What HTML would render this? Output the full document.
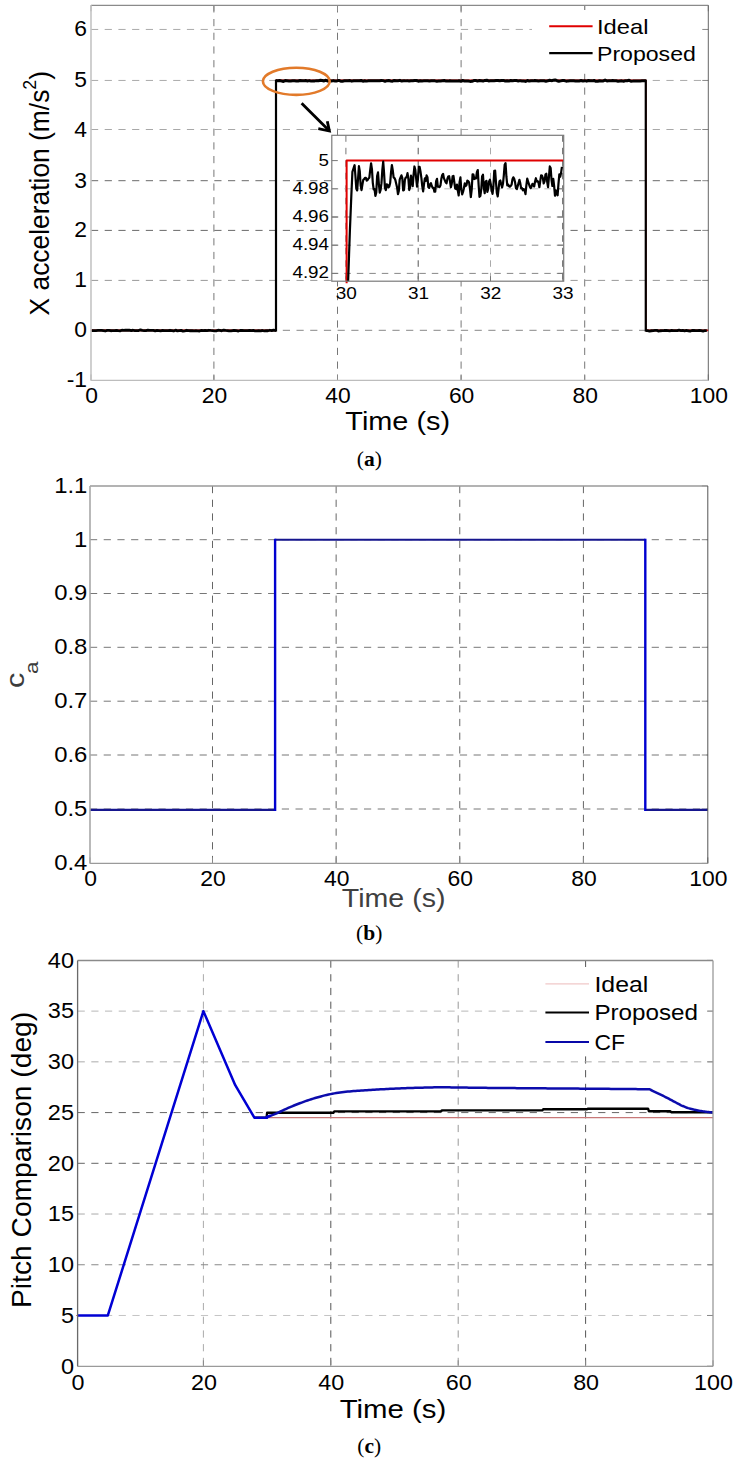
<!DOCTYPE html>
<html><head><meta charset="utf-8"><style>
html,body{margin:0;padding:0;background:#fff;}
svg{display:block}
text{font-family:"Liberation Sans", sans-serif;}
.cap{font-family:"Liberation Serif",serif;}
.b{font-weight:bold;}
</style></head><body>
<svg width="737" height="1466" viewBox="0 0 737 1466">
<rect width="737" height="1466" fill="#fff"/>
<line x1="213.90" y1="5.30" x2="213.90" y2="380.40" stroke="#777" stroke-width="1" stroke-dasharray="7.2 6.5" />
<line x1="337.50" y1="5.30" x2="337.50" y2="380.40" stroke="#777" stroke-width="1" stroke-dasharray="7.2 6.5" />
<line x1="461.10" y1="5.30" x2="461.10" y2="380.40" stroke="#777" stroke-width="1" stroke-dasharray="7.2 6.5" />
<line x1="584.70" y1="5.30" x2="584.70" y2="380.40" stroke="#777" stroke-width="1" stroke-dasharray="7.2 6.5" />
<line x1="91.00" y1="29.45" x2="708.30" y2="29.45" stroke="#aaa" stroke-width="1" stroke-dasharray="7.2 6.5" />
<line x1="91.00" y1="80.45" x2="708.30" y2="80.45" stroke="#aaa" stroke-width="1" stroke-dasharray="7.2 6.5" />
<line x1="91.00" y1="129.50" x2="708.30" y2="129.50" stroke="#a8a8a8" stroke-width="1" stroke-dasharray="7.2 6.5" />
<line x1="91.00" y1="180.70" x2="708.30" y2="180.70" stroke="#6a6a6a" stroke-width="1" stroke-dasharray="7.2 6.5" />
<line x1="91.00" y1="230.40" x2="708.30" y2="230.40" stroke="#6a6a6a" stroke-width="1" stroke-dasharray="7.2 6.5" />
<line x1="91.00" y1="280.40" x2="708.30" y2="280.40" stroke="#999" stroke-width="1" stroke-dasharray="7.2 6.5" />
<line x1="91.00" y1="330.30" x2="708.30" y2="330.30" stroke="#888" stroke-width="1" stroke-dasharray="7.2 6.5" />
<line x1="702.30" y1="29.45" x2="708.30" y2="29.45" stroke="#888" stroke-width="1" />
<line x1="702.30" y1="80.45" x2="708.30" y2="80.45" stroke="#888" stroke-width="1" />
<line x1="702.30" y1="129.50" x2="708.30" y2="129.50" stroke="#888" stroke-width="1" />
<line x1="702.30" y1="180.70" x2="708.30" y2="180.70" stroke="#888" stroke-width="1" />
<line x1="702.30" y1="230.40" x2="708.30" y2="230.40" stroke="#888" stroke-width="1" />
<line x1="702.30" y1="280.40" x2="708.30" y2="280.40" stroke="#888" stroke-width="1" />
<line x1="702.30" y1="330.30" x2="708.30" y2="330.30" stroke="#888" stroke-width="1" />
<line x1="702.30" y1="380.40" x2="708.30" y2="380.40" stroke="#888" stroke-width="1" />
<line x1="91.00" y1="380.40" x2="91.00" y2="374.40" stroke="#888" stroke-width="1" />
<line x1="91.00" y1="5.30" x2="91.00" y2="11.30" stroke="#888" stroke-width="1" />
<line x1="213.90" y1="380.40" x2="213.90" y2="374.40" stroke="#888" stroke-width="1" />
<line x1="213.90" y1="5.30" x2="213.90" y2="11.30" stroke="#888" stroke-width="1" />
<line x1="337.50" y1="380.40" x2="337.50" y2="374.40" stroke="#888" stroke-width="1" />
<line x1="337.50" y1="5.30" x2="337.50" y2="11.30" stroke="#888" stroke-width="1" />
<line x1="461.10" y1="380.40" x2="461.10" y2="374.40" stroke="#888" stroke-width="1" />
<line x1="461.10" y1="5.30" x2="461.10" y2="11.30" stroke="#888" stroke-width="1" />
<line x1="584.70" y1="380.40" x2="584.70" y2="374.40" stroke="#888" stroke-width="1" />
<line x1="584.70" y1="5.30" x2="584.70" y2="11.30" stroke="#888" stroke-width="1" />
<line x1="708.30" y1="380.40" x2="708.30" y2="374.40" stroke="#888" stroke-width="1" />
<line x1="708.30" y1="5.30" x2="708.30" y2="11.30" stroke="#888" stroke-width="1" />
<polyline points="91.11,330.40 276.00,330.40 276.00,80.20 645.78,80.20 645.78,330.40 708.30,330.40" fill="none" stroke="#e00000" stroke-width="1.6" stroke-linejoin="round" />
<polyline points="91.50,330.40 92.34,330.60 94.19,330.68 96.04,330.52 97.89,330.35 99.74,330.47 101.59,330.32 103.44,330.62 105.28,330.98 107.13,330.46 108.98,330.43 110.83,330.74 112.68,330.70 114.53,330.63 116.38,330.34 118.23,330.59 120.08,330.79 121.92,330.22 123.77,330.47 125.62,330.07 127.47,330.24 129.32,330.08 131.17,330.53 133.02,330.25 134.87,330.68 136.72,330.64 138.57,330.55 140.41,329.90 142.26,330.45 144.11,330.59 145.96,330.63 147.81,330.17 149.66,330.47 151.51,330.33 153.36,330.37 155.21,330.90 157.05,330.37 158.90,330.59 160.75,330.85 162.60,330.44 164.45,330.57 166.30,330.63 168.15,330.62 170.00,330.26 171.85,330.62 173.69,330.98 175.54,330.17 177.39,330.84 179.24,330.63 181.09,330.42 182.94,331.16 184.79,330.81 186.64,330.26 188.49,330.62 190.33,330.76 192.18,330.55 194.03,330.79 195.88,330.58 197.73,330.79 199.58,331.00 201.43,330.41 203.28,330.66 205.13,330.47 206.97,330.64 208.82,330.27 210.67,330.44 212.52,330.55 214.37,330.85 216.22,330.92 218.07,330.23 219.92,330.38 221.77,330.78 223.61,330.04 225.46,330.47 227.31,330.57 229.16,330.95 231.01,330.79 232.86,330.51 234.71,330.50 236.56,330.53 238.41,331.03 240.25,330.48 242.10,330.51 243.95,330.70 245.80,330.57 247.65,330.54 249.50,330.29 251.35,330.60 253.20,330.48 255.05,330.93 256.89,330.78 258.74,330.59 260.59,330.79 262.44,330.50 264.29,330.89 266.14,330.60 267.99,330.76 269.84,330.24 271.69,330.70 273.53,330.13 276.00,330.60" fill="none" stroke="#000" stroke-width="2.8" stroke-linejoin="round" />
<polyline points="276.00,80.85 277.85,80.76 279.70,80.60 281.55,80.90 283.40,81.48 285.24,80.62 287.09,80.68 288.94,80.91 290.79,80.99 292.64,80.80 294.49,80.79 296.34,81.05 298.19,81.00 300.04,80.56 301.88,80.83 303.73,80.86 305.58,80.55 307.43,80.92 309.28,80.61 311.13,81.12 312.98,80.90 314.83,80.88 316.68,80.68 318.52,80.82 320.37,80.29 322.22,80.53 324.07,80.95 325.92,80.25 327.77,81.09 329.62,80.36 331.47,81.06 333.32,80.61 335.16,81.07 337.01,80.89 338.86,80.42 340.71,81.20 342.56,81.25 344.41,80.83 346.26,80.77 348.11,80.81 349.96,80.58 351.80,81.16 353.65,80.70 355.50,80.84 357.35,80.63 359.20,80.67 361.05,80.49 362.90,81.20 364.75,80.81 366.60,81.12 368.45,80.85 370.29,80.66 372.14,80.76 373.99,80.69 375.84,80.85 377.69,80.74 379.54,80.77 381.39,80.46 383.24,80.62 385.09,81.31 386.93,80.66 388.78,80.55 390.63,80.94 392.48,81.24 394.33,80.44 396.18,80.79 398.03,80.67 399.88,80.36 401.73,81.06 403.57,80.84 405.42,80.87 407.27,80.64 409.12,80.98 410.97,80.70 412.82,80.81 414.67,80.54 416.52,80.51 418.37,81.22 420.21,80.71 422.06,80.93 423.91,80.84 425.76,80.73 427.61,80.71 429.46,81.03 431.31,80.77 433.16,80.81 435.01,80.86 436.85,81.18 438.70,81.04 440.55,80.96 442.40,80.69 444.25,80.46 446.10,81.12 447.95,81.12 449.80,80.81 451.65,81.00 453.49,81.07 455.34,81.08 457.19,81.11 459.04,80.72 460.89,81.27 462.74,80.50 464.59,81.09 466.44,80.99 468.29,81.09 470.13,81.38 471.98,81.27 473.83,80.53 475.68,80.38 477.53,81.08 479.38,80.57 481.23,80.85 483.08,81.09 484.93,80.39 486.77,80.26 488.62,80.92 490.47,80.86 492.32,80.78 494.17,80.86 496.02,80.61 497.87,80.43 499.72,80.80 501.57,80.58 503.41,80.39 505.26,80.99 507.11,80.83 508.96,80.96 510.81,80.57 512.66,80.67 514.51,80.57 516.36,80.60 518.21,80.90 520.05,80.63 521.90,80.95 523.75,80.95 525.60,81.42 527.45,80.46 529.30,81.10 531.15,80.82 533.00,80.85 534.85,80.44 536.69,80.72 538.54,81.06 540.39,80.83 542.24,80.87 544.09,80.77 545.94,81.17 547.79,80.84 549.64,80.23 551.49,80.66 553.34,80.30 555.18,79.94 557.03,80.70 558.88,81.22 560.73,80.86 562.58,80.52 564.43,80.59 566.28,81.17 568.13,80.89 569.98,80.86 571.82,80.84 573.67,80.86 575.52,81.08 577.37,81.00 579.22,80.91 581.07,80.56 582.92,80.99 584.77,80.66 586.62,81.16 588.46,80.49 590.31,80.81 592.16,80.85 594.01,80.48 595.86,81.33 597.71,81.26 599.56,80.72 601.41,81.07 603.26,80.96 605.10,80.12 606.95,80.92 608.80,80.83 610.65,80.87 612.50,80.55 614.35,80.77 616.20,80.80 618.05,81.18 619.90,80.94 621.74,80.85 623.59,81.28 625.44,80.69 627.29,80.74 629.14,80.34 630.99,81.29 632.84,81.12 634.69,81.11 636.54,81.04 638.38,80.88 640.23,80.91 642.08,80.78 643.93,80.79 645.78,80.85" fill="none" stroke="#000" stroke-width="3.0" stroke-linejoin="round" />
<polyline points="645.78,330.60 647.63,330.62 649.48,331.02 651.33,330.76 653.18,330.58 655.02,330.44 656.87,330.42 658.72,331.05 660.57,330.74 662.42,330.62 664.27,330.50 666.12,330.29 667.97,330.58 669.82,330.84 671.66,330.49 673.51,330.54 675.36,330.54 677.21,330.63 679.06,330.15 680.91,330.53 682.76,330.36 684.61,330.85 686.46,330.38 688.30,330.76 690.15,331.03 692.00,330.51 693.85,330.43 695.70,330.65 697.55,330.60 699.40,330.32 701.25,330.73 703.10,331.16 704.94,330.53 706.79,330.54" fill="none" stroke="#000" stroke-width="2.8" stroke-linejoin="round" />
<line x1="276.00" y1="331.60" x2="276.00" y2="79.60" stroke="#000" stroke-width="2.2" />
<line x1="645.78" y1="331.60" x2="645.78" y2="79.60" stroke="#000" stroke-width="2.2" />
<line x1="91.00" y1="5.30" x2="708.30" y2="5.30" stroke="#8a8a8a" stroke-width="1.3" />
<line x1="708.30" y1="5.30" x2="708.30" y2="380.40" stroke="#666" stroke-width="1.0" />
<line x1="91.00" y1="380.40" x2="708.30" y2="380.40" stroke="#bdbdbd" stroke-width="1.3" />
<line x1="91.00" y1="5.30" x2="91.00" y2="380.40" stroke="#c4c4c4" stroke-width="1.6" />
<rect x="532" y="10" width="170" height="58.5" fill="#fff"/>
<line x1="549.20" y1="26.30" x2="592.60" y2="26.30" stroke="#e00000" stroke-width="2" />
<line x1="549.20" y1="53.20" x2="592.60" y2="53.20" stroke="#000" stroke-width="2.2" />
<text transform="translate(597.00,34.10) scale(1.130,1)" font-size="21" text-anchor="start" fill="#000" >Ideal</text>
<text transform="translate(597.00,60.80) scale(1.100,1)" font-size="21" text-anchor="start" fill="#000" >Proposed</text>
<text transform="translate(87.00,36.45) scale(1.030,1)" font-size="22.2" text-anchor="end" fill="#000" >6</text>
<text transform="translate(87.00,87.45) scale(1.030,1)" font-size="22.2" text-anchor="end" fill="#000" >5</text>
<text transform="translate(87.00,136.50) scale(1.030,1)" font-size="22.2" text-anchor="end" fill="#000" >4</text>
<text transform="translate(87.00,187.70) scale(1.030,1)" font-size="22.2" text-anchor="end" fill="#000" >3</text>
<text transform="translate(87.00,237.40) scale(1.030,1)" font-size="22.2" text-anchor="end" fill="#000" >2</text>
<text transform="translate(87.00,287.40) scale(1.030,1)" font-size="22.2" text-anchor="end" fill="#000" >1</text>
<text transform="translate(87.00,337.30) scale(1.030,1)" font-size="22.2" text-anchor="end" fill="#000" >0</text>
<text transform="translate(87.00,387.40) scale(1.030,1)" font-size="22.2" text-anchor="end" fill="#000" >-1</text>
<text transform="translate(91.50,402.70) scale(1.030,1)" font-size="22.2" text-anchor="middle" fill="#000" >0</text>
<text transform="translate(214.40,402.70) scale(1.030,1)" font-size="22.2" text-anchor="middle" fill="#000" >20</text>
<text transform="translate(338.00,402.70) scale(1.030,1)" font-size="22.2" text-anchor="middle" fill="#000" >40</text>
<text transform="translate(461.60,402.70) scale(1.030,1)" font-size="22.2" text-anchor="middle" fill="#000" >60</text>
<text transform="translate(585.20,402.70) scale(1.030,1)" font-size="22.2" text-anchor="middle" fill="#000" >80</text>
<text transform="translate(708.80,402.70) scale(1.030,1)" font-size="22.2" text-anchor="middle" fill="#000" >100</text>
<text transform="translate(397.70,430.00) scale(1.110,1)" font-size="26" text-anchor="middle" fill="#000" >Time (s)</text>
<text transform="translate(49.0,193.2) rotate(-90) scale(0.985,1)" font-size="26.8" text-anchor="middle">X acceleration (m/s<tspan font-size="18" dy="-13">2</tspan><tspan dy="13">)</tspan></text>
<text x="369.25" y="466.1" class="cap" font-size="21.5" text-anchor="middle">(<tspan class="b">a</tspan>)</text>
<ellipse cx="296.3" cy="81.3" rx="33.4" ry="13.6" fill="none" stroke="#e27a2a" stroke-width="2.6"/>
<line x1="301.60" y1="103.20" x2="328.00" y2="129.60" stroke="#000" stroke-width="2.8" />
<polyline points="318.3,128.6 329.4,131 327.3,121.3" fill="none" stroke="#000" stroke-width="2.8" stroke-linejoin="miter"/>
<rect x="331.8" y="135.3" width="231.90000000000003" height="145.89999999999998" fill="#fff"/>
<line x1="345.90" y1="135.30" x2="345.90" y2="281.20" stroke="#777" stroke-width="1" stroke-dasharray="6.5 6" />
<line x1="418.20" y1="135.30" x2="418.20" y2="281.20" stroke="#555" stroke-width="1" stroke-dasharray="6.5 6" />
<line x1="490.50" y1="135.30" x2="490.50" y2="281.20" stroke="#aaa" stroke-width="1" stroke-dasharray="6.5 6" />
<line x1="562.80" y1="135.30" x2="562.80" y2="281.20" stroke="#444" stroke-width="1" stroke-dasharray="6.5 6" />
<line x1="331.80" y1="273.40" x2="563.70" y2="273.40" stroke="#888" stroke-width="1" stroke-dasharray="6.5 6" />
<line x1="331.80" y1="245.20" x2="563.70" y2="245.20" stroke="#888" stroke-width="1" stroke-dasharray="6.5 6" />
<line x1="331.80" y1="217.00" x2="563.70" y2="217.00" stroke="#777" stroke-width="1" stroke-dasharray="6.5 6" />
<line x1="331.80" y1="188.80" x2="563.70" y2="188.80" stroke="#bbb" stroke-width="1" stroke-dasharray="6.5 6" />
<line x1="331.80" y1="273.40" x2="337.80" y2="273.40" stroke="#777" stroke-width="1" />
<line x1="557.70" y1="273.40" x2="563.70" y2="273.40" stroke="#777" stroke-width="1" />
<line x1="331.80" y1="245.20" x2="337.80" y2="245.20" stroke="#777" stroke-width="1" />
<line x1="557.70" y1="245.20" x2="563.70" y2="245.20" stroke="#777" stroke-width="1" />
<line x1="331.80" y1="217.00" x2="337.80" y2="217.00" stroke="#777" stroke-width="1" />
<line x1="557.70" y1="217.00" x2="563.70" y2="217.00" stroke="#777" stroke-width="1" />
<line x1="331.80" y1="188.80" x2="337.80" y2="188.80" stroke="#777" stroke-width="1" />
<line x1="557.70" y1="188.80" x2="563.70" y2="188.80" stroke="#777" stroke-width="1" />
<line x1="331.80" y1="160.60" x2="337.80" y2="160.60" stroke="#777" stroke-width="1" />
<line x1="557.70" y1="160.60" x2="563.70" y2="160.60" stroke="#777" stroke-width="1" />
<line x1="345.90" y1="281.20" x2="345.90" y2="276.20" stroke="#777" stroke-width="1" />
<line x1="418.20" y1="281.20" x2="418.20" y2="276.20" stroke="#777" stroke-width="1" />
<line x1="490.50" y1="281.20" x2="490.50" y2="276.20" stroke="#777" stroke-width="1" />
<line x1="562.80" y1="281.20" x2="562.80" y2="276.20" stroke="#777" stroke-width="1" />
<polyline points="346.62,283.20 346.62,160.60 563.70,160.60" fill="none" stroke="#e00000" stroke-width="2" stroke-linejoin="round" />
<clipPath id="ic"><rect x="331.8" y="135.3" width="231.90000000000003" height="145.89999999999998"/></clipPath>
<polyline points="348.07,283.20 349.88,231.10 351.32,195.85 352.41,171.88 354.58,165.21 355.44,176.26 356.31,188.66 357.18,190.41 358.05,178.79 358.91,166.22 359.78,171.26 360.65,185.46 361.52,190.08 362.38,184.76 363.25,179.91 364.12,179.17 364.99,177.75 365.85,177.79 366.72,180.64 367.59,180.07 368.46,178.53 369.33,177.68 370.19,170.13 371.06,163.28 371.93,169.07 372.80,182.79 373.66,189.31 374.53,189.07 375.40,195.97 376.27,192.60 377.13,176.12 378.00,172.40 378.87,183.86 379.74,192.70 380.60,189.99 381.47,183.15 382.34,169.93 383.21,161.50 384.07,173.08 384.94,187.91 385.81,190.14 386.68,184.39 387.54,184.73 388.41,187.42 389.28,186.43 390.15,183.09 391.02,172.34 391.88,165.01 392.75,170.25 393.62,177.31 394.49,178.08 395.35,179.96 396.22,183.68 397.09,187.43 397.96,194.18 398.82,190.87 399.69,179.65 400.56,177.39 401.43,175.33 402.29,177.86 403.16,190.38 404.03,189.97 404.90,179.63 405.76,177.54 406.63,177.26 407.50,173.15 408.37,178.70 409.23,190.04 410.10,187.10 410.97,175.66 411.84,180.05 412.71,186.15 413.57,174.82 414.44,166.47 415.31,169.77 416.18,178.55 417.04,186.54 417.91,179.53 418.78,166.85 419.65,166.85 420.51,171.61 421.38,177.96 422.25,186.17 423.12,191.43 423.98,184.37 424.85,178.38 425.72,180.99 426.59,175.37 427.45,177.14 428.32,187.04 429.19,187.89 430.06,184.42 430.92,183.16 431.79,186.03 432.66,187.86 433.53,187.75 434.40,191.72 435.26,191.74 436.13,181.18 437.00,178.86 437.87,186.77 438.73,186.77 439.60,187.11 440.47,185.36 441.34,178.78 442.20,175.09 443.07,173.80 443.94,178.40 444.81,180.28 445.67,182.25 446.54,183.34 447.41,178.60 448.28,176.54 449.14,176.13 450.01,181.43 450.88,187.27 451.75,183.64 452.61,176.28 453.48,175.93 454.35,182.49 455.22,188.57 456.09,188.98 456.95,184.52 457.82,190.61 458.69,195.43 459.56,182.24 460.42,177.39 461.29,189.65 462.16,194.39 463.03,191.91 463.89,188.28 464.76,183.44 465.63,186.05 466.50,185.08 467.36,180.53 468.23,181.15 469.10,182.38 469.97,188.62 470.83,197.03 471.70,189.62 472.57,174.24 473.44,174.59 474.30,179.04 475.17,178.35 476.04,178.36 476.91,172.23 477.78,170.02 478.64,185.28 479.51,196.81 480.38,195.97 481.25,189.33 482.11,176.21 482.98,174.71 483.85,187.85 484.72,193.23 485.58,181.87 486.45,180.81 487.32,191.97 488.19,189.02 489.05,181.45 489.92,179.74 490.79,184.19 491.66,190.07 492.52,193.82 493.39,186.45 494.26,170.73 495.13,170.69 495.99,182.35 496.86,193.02 497.73,196.42 498.60,188.58 499.47,181.30 500.33,180.48 501.20,184.16 502.07,187.55 502.94,183.83 503.80,175.65 504.67,164.72 505.54,163.11 506.41,176.72 507.27,185.31 508.14,184.53 509.01,186.27 509.88,186.70 510.74,185.87 511.61,184.65 512.48,179.28 513.35,177.32 514.21,178.78 515.08,182.32 515.95,188.16 516.82,189.08 517.68,186.10 518.55,183.18 519.42,179.78 520.29,183.31 521.16,188.42 522.02,188.11 522.89,190.34 523.76,189.11 524.63,190.49 525.49,194.09 526.36,185.33 527.23,178.70 528.10,181.47 528.96,184.12 529.83,186.69 530.70,188.20 531.57,186.43 532.43,183.79 533.30,184.77 534.17,186.47 535.04,181.47 535.90,178.22 536.77,181.43 537.64,181.06 538.51,182.84 539.37,187.26 540.24,181.17 541.11,175.37 541.98,175.50 542.85,178.17 543.71,183.46 544.58,181.29 545.45,174.65 546.32,173.78 547.18,181.74 548.05,187.15 548.92,177.04 549.79,166.47 550.65,168.02 551.52,179.76 552.39,185.99 553.26,178.89 554.12,185.81 554.99,195.70 555.86,190.45 556.73,192.58 557.59,195.31 558.46,183.83 559.33,174.33 560.20,176.81 561.06,173.06 561.93,166.87" fill="none" stroke="#000" stroke-width="2.2" stroke-linejoin="round" clip-path="url(#ic)"/>
<rect x="331.8" y="135.3" width="231.90000000000003" height="145.89999999999998" fill="none" stroke="#7a7a7a" stroke-width="1.2"/>
<text transform="translate(329.00,165.60) scale(1.160,1)" font-size="16.2" text-anchor="end" fill="#000" >5</text>
<text transform="translate(329.00,193.80) scale(1.160,1)" font-size="16.2" text-anchor="end" fill="#000" >4.98</text>
<text transform="translate(329.00,222.00) scale(1.160,1)" font-size="16.2" text-anchor="end" fill="#000" >4.96</text>
<text transform="translate(329.00,250.20) scale(1.160,1)" font-size="16.2" text-anchor="end" fill="#000" >4.94</text>
<text transform="translate(329.00,278.40) scale(1.160,1)" font-size="16.2" text-anchor="end" fill="#000" >4.92</text>
<text transform="translate(346.20,299.30) scale(1.150,1)" font-size="16.5" text-anchor="middle" fill="#000" >30</text>
<text transform="translate(418.50,299.30) scale(1.150,1)" font-size="16.5" text-anchor="middle" fill="#000" >31</text>
<text transform="translate(490.80,299.30) scale(1.150,1)" font-size="16.5" text-anchor="middle" fill="#000" >32</text>
<text transform="translate(563.10,299.30) scale(1.150,1)" font-size="16.5" text-anchor="middle" fill="#000" >33</text>
<line x1="212.50" y1="486.00" x2="212.50" y2="863.40" stroke="#666" stroke-width="1" stroke-dasharray="7.2 6.5" />
<line x1="336.14" y1="486.00" x2="336.14" y2="863.40" stroke="#666" stroke-width="1" stroke-dasharray="7.2 6.5" />
<line x1="459.78" y1="486.00" x2="459.78" y2="863.40" stroke="#666" stroke-width="1" stroke-dasharray="7.2 6.5" />
<line x1="583.42" y1="486.00" x2="583.42" y2="863.40" stroke="#666" stroke-width="1" stroke-dasharray="7.2 6.5" />
<line x1="90.00" y1="539.70" x2="707.80" y2="539.70" stroke="#777" stroke-width="1" stroke-dasharray="7.2 6.5" />
<line x1="90.00" y1="593.50" x2="707.80" y2="593.50" stroke="#777" stroke-width="1" stroke-dasharray="7.2 6.5" />
<line x1="90.00" y1="647.30" x2="707.80" y2="647.30" stroke="#777" stroke-width="1" stroke-dasharray="7.2 6.5" />
<line x1="90.00" y1="701.20" x2="707.80" y2="701.20" stroke="#777" stroke-width="1" stroke-dasharray="7.2 6.5" />
<line x1="90.00" y1="755.00" x2="707.80" y2="755.00" stroke="#777" stroke-width="1" stroke-dasharray="7.2 6.5" />
<line x1="90.00" y1="809.00" x2="707.80" y2="809.00" stroke="#777" stroke-width="1" stroke-dasharray="7.2 6.5" />
<line x1="701.80" y1="485.90" x2="707.80" y2="485.90" stroke="#888" stroke-width="1" />
<line x1="701.80" y1="539.70" x2="707.80" y2="539.70" stroke="#888" stroke-width="1" />
<line x1="701.80" y1="593.50" x2="707.80" y2="593.50" stroke="#888" stroke-width="1" />
<line x1="701.80" y1="647.30" x2="707.80" y2="647.30" stroke="#888" stroke-width="1" />
<line x1="701.80" y1="701.20" x2="707.80" y2="701.20" stroke="#888" stroke-width="1" />
<line x1="701.80" y1="755.00" x2="707.80" y2="755.00" stroke="#888" stroke-width="1" />
<line x1="701.80" y1="809.00" x2="707.80" y2="809.00" stroke="#888" stroke-width="1" />
<line x1="701.80" y1="863.40" x2="707.80" y2="863.40" stroke="#888" stroke-width="1" />
<line x1="90.00" y1="863.40" x2="90.00" y2="857.40" stroke="#888" stroke-width="1" />
<line x1="212.50" y1="863.40" x2="212.50" y2="857.40" stroke="#888" stroke-width="1" />
<line x1="336.14" y1="863.40" x2="336.14" y2="857.40" stroke="#888" stroke-width="1" />
<line x1="459.78" y1="863.40" x2="459.78" y2="857.40" stroke="#888" stroke-width="1" />
<line x1="583.42" y1="863.40" x2="583.42" y2="857.40" stroke="#888" stroke-width="1" />
<line x1="707.80" y1="863.40" x2="707.80" y2="857.40" stroke="#888" stroke-width="1" />
<polyline points="90.00,809.90 275.10,809.90" fill="none" stroke="#16168e" stroke-width="2.1" stroke-linejoin="round" />
<polyline points="275.10,539.80 645.30,539.80" fill="none" stroke="#16168e" stroke-width="2.1" stroke-linejoin="round" />
<polyline points="645.30,809.90 707.80,809.90" fill="none" stroke="#16168e" stroke-width="2.1" stroke-linejoin="round" />
<line x1="275.10" y1="810.90" x2="275.10" y2="538.80" stroke="#0000d0" stroke-width="2.4" />
<line x1="645.30" y1="810.90" x2="645.30" y2="538.80" stroke="#0000d0" stroke-width="2.4" />
<line x1="90.00" y1="486.00" x2="707.80" y2="486.00" stroke="#9a9a9a" stroke-width="1.5" />
<line x1="707.80" y1="486.00" x2="707.80" y2="863.40" stroke="#555" stroke-width="1.0" />
<line x1="90.00" y1="863.40" x2="707.80" y2="863.40" stroke="#9a9a9a" stroke-width="1.3" />
<line x1="90.00" y1="486.00" x2="90.00" y2="863.40" stroke="#a8a8a8" stroke-width="1.6" />
<text transform="translate(87.30,492.80) scale(1.075,1)" font-size="22.2" text-anchor="end" fill="#000" >1.1</text>
<text transform="translate(87.30,546.60) scale(1.075,1)" font-size="22.2" text-anchor="end" fill="#000" >1</text>
<text transform="translate(87.30,600.40) scale(1.075,1)" font-size="22.2" text-anchor="end" fill="#000" >0.9</text>
<text transform="translate(87.30,654.20) scale(1.075,1)" font-size="22.2" text-anchor="end" fill="#000" >0.8</text>
<text transform="translate(87.30,708.10) scale(1.075,1)" font-size="22.2" text-anchor="end" fill="#000" >0.7</text>
<text transform="translate(87.30,761.90) scale(1.075,1)" font-size="22.2" text-anchor="end" fill="#000" >0.6</text>
<text transform="translate(87.30,815.90) scale(1.075,1)" font-size="22.2" text-anchor="end" fill="#000" >0.5</text>
<text transform="translate(87.30,870.30) scale(1.075,1)" font-size="22.2" text-anchor="end" fill="#000" >0.4</text>
<text transform="translate(90.50,885.50) scale(1.050,1)" font-size="21.8" text-anchor="middle" fill="#000" >0</text>
<text transform="translate(213.00,885.50) scale(1.050,1)" font-size="21.8" text-anchor="middle" fill="#000" >20</text>
<text transform="translate(336.64,885.50) scale(1.050,1)" font-size="21.8" text-anchor="middle" fill="#000" >40</text>
<text transform="translate(460.28,885.50) scale(1.050,1)" font-size="21.8" text-anchor="middle" fill="#000" >60</text>
<text transform="translate(583.92,885.50) scale(1.050,1)" font-size="21.8" text-anchor="middle" fill="#000" >80</text>
<text transform="translate(708.30,885.50) scale(1.050,1)" font-size="21.8" text-anchor="middle" fill="#000" >100</text>
<text transform="translate(393.60,907.20) scale(1.095,1)" font-size="26.1" text-anchor="middle" fill="#404040" >Time (s)</text>
<text transform="translate(24.1,687.9) rotate(-90) scale(1.18,1)" font-size="26" fill="#3c3c3c">c<tspan font-size="19" dy="14" dx="-1.3">a</tspan></text>
<text x="369.25" y="940.3" class="cap" font-size="21.5" text-anchor="middle">(<tspan class="b">b</tspan>)</text>
<line x1="203.40" y1="960.50" x2="203.40" y2="1366.30" stroke="#aaa" stroke-width="1" stroke-dasharray="7.2 6.5" />
<line x1="330.80" y1="960.50" x2="330.80" y2="1366.30" stroke="#555" stroke-width="1" stroke-dasharray="7.2 6.5" />
<line x1="458.20" y1="960.50" x2="458.20" y2="1366.30" stroke="#999" stroke-width="1" stroke-dasharray="7.2 6.5" />
<line x1="585.60" y1="960.50" x2="585.60" y2="1366.30" stroke="#555" stroke-width="1" stroke-dasharray="7.2 6.5" />
<line x1="77.60" y1="1315.48" x2="713.00" y2="1315.48" stroke="#c4c4c4" stroke-width="1" stroke-dasharray="7.2 6.5" />
<line x1="77.60" y1="1264.75" x2="713.00" y2="1264.75" stroke="#888" stroke-width="1" stroke-dasharray="7.2 6.5" />
<line x1="77.60" y1="1214.03" x2="713.00" y2="1214.03" stroke="#aaa" stroke-width="1" stroke-dasharray="7.2 6.5" />
<line x1="77.60" y1="1163.30" x2="713.00" y2="1163.30" stroke="#666" stroke-width="1" stroke-dasharray="7.2 6.5" />
<line x1="77.60" y1="1112.58" x2="713.00" y2="1112.58" stroke="#666" stroke-width="1" stroke-dasharray="7.2 6.5" />
<line x1="77.60" y1="1061.85" x2="713.00" y2="1061.85" stroke="#aaa" stroke-width="1" stroke-dasharray="7.2 6.5" />
<line x1="77.60" y1="1011.12" x2="713.00" y2="1011.12" stroke="#b8b8b8" stroke-width="1" stroke-dasharray="7.2 6.5" />
<line x1="707.00" y1="1366.20" x2="713.00" y2="1366.20" stroke="#888" stroke-width="1" />
<line x1="707.00" y1="1315.48" x2="713.00" y2="1315.48" stroke="#888" stroke-width="1" />
<line x1="707.00" y1="1264.75" x2="713.00" y2="1264.75" stroke="#888" stroke-width="1" />
<line x1="707.00" y1="1214.03" x2="713.00" y2="1214.03" stroke="#888" stroke-width="1" />
<line x1="707.00" y1="1163.30" x2="713.00" y2="1163.30" stroke="#888" stroke-width="1" />
<line x1="707.00" y1="1112.58" x2="713.00" y2="1112.58" stroke="#888" stroke-width="1" />
<line x1="707.00" y1="1061.85" x2="713.00" y2="1061.85" stroke="#888" stroke-width="1" />
<line x1="707.00" y1="1011.12" x2="713.00" y2="1011.12" stroke="#888" stroke-width="1" />
<line x1="707.00" y1="960.40" x2="713.00" y2="960.40" stroke="#888" stroke-width="1" />
<line x1="77.60" y1="1366.30" x2="77.60" y2="1360.30" stroke="#888" stroke-width="1" />
<line x1="203.40" y1="1366.30" x2="203.40" y2="1360.30" stroke="#888" stroke-width="1" />
<line x1="330.80" y1="1366.30" x2="330.80" y2="1360.30" stroke="#888" stroke-width="1" />
<line x1="458.20" y1="1366.30" x2="458.20" y2="1360.30" stroke="#888" stroke-width="1" />
<line x1="585.60" y1="1366.30" x2="585.60" y2="1360.30" stroke="#888" stroke-width="1" />
<line x1="713.00" y1="1366.30" x2="713.00" y2="1360.30" stroke="#888" stroke-width="1" />
<polyline points="76.00,1315.48 107.85,1315.48 203.40,1011.12 235.25,1085.18 254.36,1117.65 713.00,1117.65" fill="none" stroke="#c87878" stroke-width="1.1" stroke-linejoin="round" />
<polyline points="254.36,1117.65 266.60,1117.65 267.10,1112.80 333.38,1112.80 334.29,1111.40 441.04,1111.40 441.94,1110.40 542.32,1110.40 543.22,1109.30 586.91,1109.30 587.81,1108.70 648.06,1108.70 648.96,1111.30 670.36,1111.30 671.26,1112.20 712.40,1112.20 713.00,1112.20" fill="none" stroke="#000" stroke-width="2.4" stroke-linejoin="round" />
<polyline points="267.10,1116.69 269.02,1116.21 270.94,1115.63 272.86,1114.94 274.78,1114.16 276.70,1113.28 278.62,1112.39 280.54,1111.50 282.46,1110.60 284.39,1109.71 286.31,1108.83 288.23,1107.97 290.15,1107.13 292.07,1106.31 293.99,1105.52 295.91,1104.74 297.83,1103.99 299.75,1103.26 301.67,1102.55 303.59,1101.85 305.51,1101.16 307.43,1100.49 309.35,1099.85 311.27,1099.22 313.19,1098.62 315.12,1098.04 317.04,1097.48 318.96,1096.94 320.88,1096.42 322.80,1095.91 324.72,1095.41 326.64,1094.95 328.56,1094.51 330.48,1094.10 332.40,1093.72 334.32,1093.37 336.24,1093.06 338.16,1092.77 340.08,1092.51 342.00,1092.27 343.92,1092.04 345.84,1091.82 347.77,1091.61 349.69,1091.42 351.61,1091.24 353.53,1091.07 355.45,1090.91 357.37,1090.77 359.29,1090.64 361.21,1090.51 363.13,1090.38 365.05,1090.26 366.97,1090.13 368.89,1090.00 370.81,1089.88 372.73,1089.77 374.65,1089.66 376.57,1089.55 378.49,1089.44 380.42,1089.34 382.34,1089.24 384.26,1089.15 386.18,1089.06 388.10,1088.96 390.02,1088.87 391.94,1088.77 393.86,1088.68 395.78,1088.59 397.70,1088.49 399.62,1088.40 401.54,1088.31 403.46,1088.22 405.38,1088.15 407.30,1088.07 409.22,1088.00 411.15,1087.94 413.07,1087.88 414.99,1087.83 416.91,1087.78 418.83,1087.73 420.75,1087.68 422.67,1087.63 424.59,1087.58 426.51,1087.53 428.43,1087.48 430.35,1087.44 432.27,1087.39 434.19,1087.35 436.11,1087.32 438.03,1087.31 439.95,1087.29 441.87,1087.29 443.80,1087.30 445.72,1087.31 447.64,1087.33 449.56,1087.36 451.48,1087.39 453.40,1087.41 455.32,1087.44 457.24,1087.47 459.16,1087.49 461.08,1087.52 463.00,1087.55 464.92,1087.57 466.84,1087.60 468.76,1087.63 470.68,1087.65 472.60,1087.68 474.53,1087.71 476.45,1087.73 478.37,1087.76 480.29,1087.79 482.21,1087.81 484.13,1087.84 486.05,1087.86 487.97,1087.89 489.89,1087.91 491.81,1087.93 493.73,1087.95 495.65,1087.97 497.57,1087.98 499.49,1088.00 501.41,1088.01 503.33,1088.03 505.25,1088.04 507.18,1088.06 509.10,1088.07 511.02,1088.09 512.94,1088.10 514.86,1088.12 516.78,1088.14 518.70,1088.15 520.62,1088.17 522.54,1088.18 524.46,1088.20 526.38,1088.21 528.30,1088.23 530.22,1088.24 532.14,1088.26 534.06,1088.27 535.98,1088.29 537.91,1088.30 539.83,1088.32 541.75,1088.33 543.67,1088.35 545.59,1088.36 547.51,1088.38 549.43,1088.40 551.35,1088.41 553.27,1088.43 555.19,1088.44 557.11,1088.46 559.03,1088.47 560.95,1088.49 562.87,1088.50 564.79,1088.52 566.71,1088.53 568.63,1088.55 570.56,1088.56 572.48,1088.58 574.40,1088.59 576.32,1088.61 578.24,1088.62 580.16,1088.64 582.08,1088.66 584.00,1088.67 585.92,1088.69 587.84,1088.70 589.76,1088.72 591.68,1088.73 593.60,1088.75 595.52,1088.76 597.44,1088.78 599.36,1088.79 601.28,1088.81 603.21,1088.82 605.13,1088.84 607.05,1088.85 608.97,1088.87 610.89,1088.89 612.81,1088.90 614.73,1088.92 616.65,1088.93 618.57,1088.95 620.49,1088.97 622.41,1088.99 624.33,1089.00 626.25,1089.02 628.17,1089.04 630.09,1089.06 632.01,1089.08 633.94,1089.09 635.86,1089.11 637.78,1089.13 639.70,1089.15 641.62,1089.17 643.54,1089.18 645.46,1089.20 647.38,1089.21 649.30,1089.22 649.30,1089.22 650.38,1089.74 651.46,1090.25 652.54,1090.76 653.62,1091.28 654.70,1091.79 655.78,1092.31 656.86,1092.82 657.94,1093.34 659.02,1093.85 660.10,1094.37 661.18,1094.88 662.26,1095.40 663.34,1095.96 664.42,1096.51 665.49,1097.07 666.57,1097.62 667.65,1098.17 668.73,1098.73 669.81,1099.31 670.89,1099.88 671.97,1100.46 673.05,1101.03 674.13,1101.60 675.21,1102.18 676.29,1102.75 677.37,1103.33 678.45,1103.90 679.53,1104.47 680.61,1105.05 681.69,1105.55 682.77,1105.99 683.85,1106.42 684.93,1106.86 686.01,1107.29 687.09,1107.73 688.17,1108.08 689.25,1108.38 690.33,1108.68 691.41,1108.97 692.49,1109.27 693.57,1109.57 694.65,1109.81 695.73,1110.03 696.81,1110.24 697.88,1110.46 698.96,1110.68 700.04,1110.90 701.12,1111.07 702.20,1111.23 703.28,1111.38 704.36,1111.54 705.44,1111.70 706.52,1111.86 707.60,1111.98 708.68,1112.10 709.76,1112.22 710.84,1112.34 711.92,1112.46 713.00,1112.58" fill="none" stroke="#0c0cac" stroke-width="2.5" stroke-linejoin="round" />
<polyline points="77.60,1315.48 107.85,1315.48 203.40,1011.12 235.25,1085.18 254.36,1117.65 267.10,1117.65 267.10,1116.69 269.02,1116.21 270.94,1115.63" fill="none" stroke="#0000d4" stroke-width="2.5" stroke-linejoin="round" />
<line x1="77.60" y1="960.50" x2="713.00" y2="960.50" stroke="#8a8a8a" stroke-width="1.5" />
<line x1="713.00" y1="960.50" x2="713.00" y2="1366.30" stroke="#9a9a9a" stroke-width="1.3" />
<line x1="77.60" y1="1366.30" x2="713.00" y2="1366.30" stroke="#9a9a9a" stroke-width="1.3" />
<line x1="77.60" y1="960.50" x2="77.60" y2="1366.30" stroke="#6a6a6a" stroke-width="1.3" />
<rect x="537" y="967" width="169" height="89" fill="#fff"/>
<line x1="545.40" y1="983.90" x2="589.00" y2="983.90" stroke="#f0c8c8" stroke-width="1.2" />
<line x1="545.40" y1="1012.60" x2="589.00" y2="1012.60" stroke="#000" stroke-width="2" />
<line x1="545.40" y1="1041.90" x2="589.00" y2="1041.90" stroke="#0808a8" stroke-width="2" />
<text transform="translate(594.40,991.60) scale(1.130,1)" font-size="22" text-anchor="start" fill="#000" >Ideal</text>
<text transform="translate(594.40,1020.20) scale(1.100,1)" font-size="22" text-anchor="start" fill="#000" >Proposed</text>
<text transform="translate(594.60,1049.60) scale(1.040,1)" font-size="22" text-anchor="start" fill="#000" >CF</text>
<text transform="translate(74.00,1373.50) scale(1.060,1)" font-size="22.2" text-anchor="end" fill="#000" >0</text>
<text transform="translate(74.00,1322.78) scale(1.060,1)" font-size="22.2" text-anchor="end" fill="#000" >5</text>
<text transform="translate(74.00,1272.05) scale(1.060,1)" font-size="22.2" text-anchor="end" fill="#000" >10</text>
<text transform="translate(74.00,1221.33) scale(1.060,1)" font-size="22.2" text-anchor="end" fill="#000" >15</text>
<text transform="translate(74.00,1170.60) scale(1.060,1)" font-size="22.2" text-anchor="end" fill="#000" >20</text>
<text transform="translate(74.00,1119.88) scale(1.060,1)" font-size="22.2" text-anchor="end" fill="#000" >25</text>
<text transform="translate(74.00,1069.15) scale(1.060,1)" font-size="22.2" text-anchor="end" fill="#000" >30</text>
<text transform="translate(74.00,1018.42) scale(1.060,1)" font-size="22.2" text-anchor="end" fill="#000" >35</text>
<text transform="translate(74.00,967.70) scale(1.060,1)" font-size="22.2" text-anchor="end" fill="#000" >40</text>
<text transform="translate(78.10,1389.50) scale(1.050,1)" font-size="22.2" text-anchor="middle" fill="#000" >0</text>
<text transform="translate(203.90,1389.50) scale(1.050,1)" font-size="22.2" text-anchor="middle" fill="#000" >20</text>
<text transform="translate(331.30,1389.50) scale(1.050,1)" font-size="22.2" text-anchor="middle" fill="#000" >40</text>
<text transform="translate(458.70,1389.50) scale(1.050,1)" font-size="22.2" text-anchor="middle" fill="#000" >60</text>
<text transform="translate(586.10,1389.50) scale(1.050,1)" font-size="22.2" text-anchor="middle" fill="#000" >80</text>
<text transform="translate(713.50,1389.50) scale(1.050,1)" font-size="22.2" text-anchor="middle" fill="#000" >100</text>
<text transform="translate(393.00,1418.20) scale(1.130,1)" font-size="26" text-anchor="middle" fill="#000" >Time (s)</text>
<text transform="translate(31.2,1159.9) rotate(-90)" font-size="28.2" text-anchor="middle">Pitch Comparison (deg)</text>
<text x="369.25" y="1453.3" class="cap" font-size="21.5" text-anchor="middle">(<tspan class="b">c</tspan>)</text>
</svg></body></html>
